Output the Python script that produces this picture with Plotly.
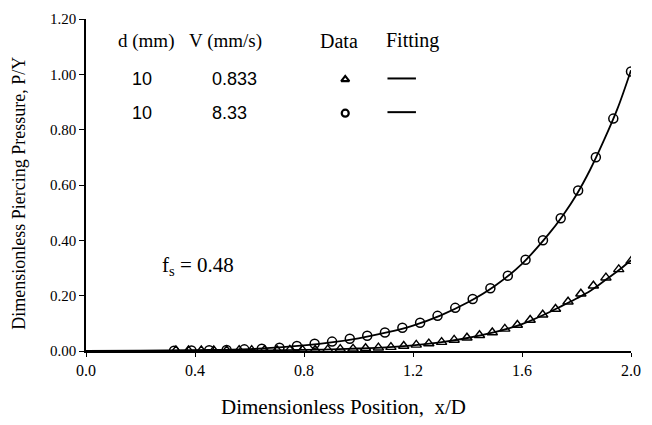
import plotly.graph_objects as go

# measured data, x/D vs P/Y
tri_x = [0.33, 0.376, 0.423, 0.469, 0.516, 0.562, 0.608, 0.655, 0.701, 0.748,
         0.794, 0.841, 0.887, 0.933, 0.98, 1.026, 1.073, 1.119, 1.166, 1.212,
         1.258, 1.305, 1.351, 1.398, 1.444, 1.491, 1.537, 1.583, 1.63, 1.676,
         1.723, 1.769, 1.816, 1.862, 1.908, 1.955, 2.0]
tri_y = [0.002, 0.002, 0.002, 0.002, 0.002, 0.003, 0.003, 0.003, 0.003, 0.004,
         0.004, 0.004, 0.005, 0.007, 0.008, 0.010, 0.012, 0.014, 0.018, 0.022,
         0.027, 0.032, 0.040, 0.048, 0.057, 0.067, 0.080, 0.094, 0.112, 0.131,
         0.152, 0.178, 0.207, 0.236, 0.265, 0.295, 0.325]

circ_x = [0.323, 0.387, 0.452, 0.516, 0.581, 0.645, 0.71, 0.774, 0.839, 0.903,
          0.968, 1.032, 1.097, 1.161, 1.226, 1.29, 1.355, 1.419, 1.484, 1.548,
          1.613, 1.677, 1.742, 1.806, 1.871, 1.935, 2.0]
circ_y = [0.001, 0.002, 0.003, 0.004, 0.006, 0.008, 0.012, 0.018, 0.026, 0.034,
          0.044, 0.055, 0.067, 0.084, 0.102, 0.127, 0.156, 0.188, 0.227, 0.272,
          0.33, 0.40, 0.48, 0.58, 0.70, 0.84, 1.01]

# fitting curves
fit_x = [0.0, 0.2, 0.4, 0.6, 0.8, 0.9, 1.0, 1.1, 1.2, 1.3, 1.4, 1.5, 1.6,
         1.7, 1.75, 1.8, 1.85, 1.9, 1.95, 2.0]
fit_slow = [0.0, 0.0005, 0.001, 0.002, 0.004, 0.006, 0.009, 0.013, 0.020, 0.031,
            0.047, 0.068, 0.097, 0.140, 0.165, 0.190, 0.217, 0.252, 0.288, 0.328]
fit_fast = [0.0, 0.001, 0.003, 0.007, 0.020, 0.031, 0.046, 0.066, 0.092, 0.128,
            0.175, 0.235, 0.315, 0.425, 0.490, 0.565, 0.655, 0.760, 0.875, 1.015]

legend_d = ["10", "10"]
legend_v = ["0.833", "8.33"]
legend_sym = ["triangle-up-open", "circle-open"]

serif = "Liberation Serif"
sans = "Liberation Sans"

W, H = 652, 425
# plot area, in pixels
L, R, T, B = 86, 641, 16, 351


def px(x):
    return (x - L) / (R - L)


def py(y):
    return (B - y) / (B - T)


fig = go.Figure()

fig.add_trace(go.Scatter(x=fit_x, y=fit_slow, mode="lines", line_shape="spline",
                         line=dict(color="black", width=1.8)))
fig.add_trace(go.Scatter(x=fit_x, y=fit_fast, mode="lines", line_shape="spline",
                         line=dict(color="black", width=1.8)))
fig.add_trace(go.Scatter(x=tri_x, y=tri_y, mode="markers",
                         marker=dict(symbol="triangle-up-open", size=9, color="black",
                                     line=dict(width=1.4))))
fig.add_trace(go.Scatter(x=circ_x, y=circ_y, mode="markers",
                         marker=dict(symbol="circle-open", size=9, color="black",
                                     line=dict(width=1.5))))

# table-style legend drawn with annotations
ann = [
    dict(x=147, y=38, text="d (mm)", font=dict(family=serif, size=19)),
    dict(x=228, y=38, text="V (mm/s)", font=dict(family=serif, size=19)),
    dict(x=344, y=38, text="Data", font=dict(family=serif, size=20)),
    dict(x=418, y=38, text="Fitting", font=dict(family=serif, size=20)),
    dict(x=161, y=265, text="f<sub>s</sub> = 0.48", xanchor="left",
         font=dict(family=serif, size=21)),
    dict(x=348, y=408, text="Dimensionless Position,  x/D", font=dict(family=serif, size=21)),
    dict(x=18, y=192, text="Dimensionless Piercing Pressure, P/Y", textangle=-90,
         font=dict(family=serif, size=18)),
]
row_y = [77, 111]
for d, v, ry in zip(legend_d, legend_v, row_y):
    ann.append(dict(x=143, y=ry, text=d, font=dict(family=sans, size=18)))
    ann.append(dict(x=212, y=ry, text=v, xanchor="left", font=dict(family=sans, size=18)))

annotations = []
for a in ann:
    item = dict(xref="paper", yref="paper", showarrow=False, xanchor="center",
                yanchor="middle")
    item.update(a)
    item["x"] = px(a["x"])
    item["y"] = py(a["y"])
    item["font"] = dict(color="black", **a["font"])
    annotations.append(item)

shapes = []
for ry in row_y:
    shapes.append(dict(type="line", xref="paper", yref="paper",
                       x0=px(393), x1=px(422), y0=py(ry - 1), y1=py(ry - 1),
                       line=dict(color="black", width=2)))

fig.add_trace(go.Scatter(
    x=[px(350) * 2.0] * 2,
    y=[py(ry) * 1.2 for ry in row_y],
    mode="markers",
    marker=dict(symbol=legend_sym, size=7, color="black", line=dict(width=2.2))))

fig.update_layout(
    width=W, height=H,
    margin=dict(l=L, r=W - R, t=T, b=H - B),
    paper_bgcolor="white", plot_bgcolor="white",
    showlegend=False,
    annotations=annotations,
    shapes=shapes,
    font=dict(family=serif, color="black"),
)
fig.update_xaxes(range=[0, 2.0], dtick=0.4, tick0=0, tickformat=".1f",
                 showgrid=False, zeroline=False, showline=True, linecolor="black",
                 linewidth=1.5, ticks="outside", ticklen=4, tickcolor="black",
                 tickfont=dict(family=serif, size=16))
fig.update_yaxes(range=[0, 1.2], dtick=0.2, tick0=0, tickformat=".2f",
                 showgrid=False, zeroline=False, showline=True, linecolor="black",
                 linewidth=1.5, ticks="outside", ticklen=5, tickcolor="black",
                 tickfont=dict(family=serif, size=15))

# drop the default page margin so the figure sits at the window's corner
fig.write_html("out.html", config={"displayModeBar": False},
               post_script="document.body.style.margin='0';document.body.style.overflow='hidden';")
